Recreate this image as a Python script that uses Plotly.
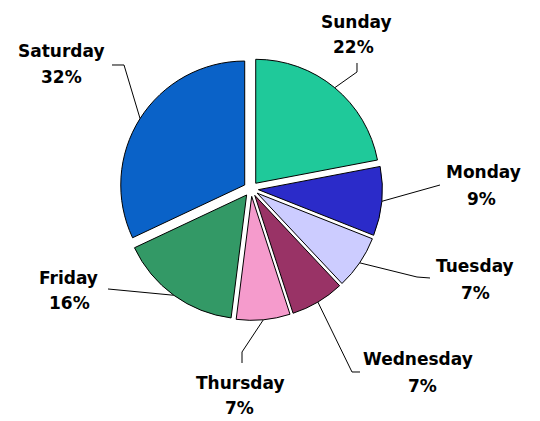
import math
import plotly.graph_objects as go

days = ["Sunday", "Monday", "Tuesday", "Wednesday", "Thursday", "Friday", "Saturday"]
shares = [22, 9, 7, 7, 7, 16, 32]
colors = ["#1FC99A", "#2B2BC9", "#CCCCFF", "#993366", "#F59BCC", "#339966", "#0A62C8"]

W, H = 540, 421
PULL = 0.06
DOM_X = [0.2215, 0.7081]
DOM_Y = [0.2390, 0.8633]

# label placement (pixels): name line center, percent line center, leader elbow points
name_pos = [(356, 22), (483, 172), (475, 266), (418, 359), (240, 383), (68, 278), (61, 51)]
pct_pos = [(353, 47), (481, 199), (475, 293), (422, 386), (239, 408), (69, 303), (61, 77)]
elbows = [
    [(357, 63), (357, 72)],
    [(440, 185)],
    [(430, 278), (417, 277)],
    [(360, 372), (352, 372)],
    [(242, 363), (242, 352)],
    [(108, 289)],
    [(112, 65), (124, 65)],
]

fig = go.Figure(go.Pie(
    labels=days, values=shares, sort=False, direction="clockwise", rotation=0,
    marker=dict(colors=colors, line=dict(color="#000000", width=1)),
    pull=[PULL] * len(days), textinfo="none", hoverinfo="label+percent",
    domain=dict(x=DOM_X, y=DOM_Y), showlegend=False,
))

# pie geometry, same as plotly's layout of the trace
bw = W * (DOM_X[1] - DOM_X[0])
bh = H * (DOM_Y[1] - DOM_Y[0])
r = min(bw, bh) / (2 + 2 * PULL)
cx = W * (DOM_X[0] + DOM_X[1]) / 2
cy = H * (2 - DOM_Y[0] - DOM_Y[1]) / 2

total = sum(shares)
cum = 0
font = dict(family="DejaVu Sans", size=17, color="#000000")
for i, (d, v) in enumerate(zip(days, shares)):
    mid = (cum + v / 2) / total * 2 * math.pi
    cum += v
    ax = cx + r * (1 + PULL) * math.sin(mid)
    ay = cy - r * (1 + PULL) * math.cos(mid)
    pts = elbows[i] + [(ax, ay)]
    path = "M " + " L ".join(f"{x / W:.5f},{1 - y / H:.5f}" for x, y in pts)
    fig.add_shape(type="path", path=path, xref="paper", yref="paper",
                  line=dict(color="#000000", width=1))
    pct = round(100 * v / total)
    for (tx, ty), txt in ((name_pos[i], d), (pct_pos[i], f"{pct}%")):
        fig.add_annotation(x=tx / W, y=1 - ty / H, xref="paper", yref="paper",
                           text=f"<b>{txt}</b>", showarrow=False, font=font,
                           xanchor="center", yanchor="middle")

fig.update_layout(width=W, height=H, margin=dict(l=0, r=0, t=0, b=0),
                  paper_bgcolor="#FFFFFF", plot_bgcolor="#FFFFFF")
fig.write_html("out.html", config={"displayModeBar": False},
               post_script="document.body.style.margin='0';")
